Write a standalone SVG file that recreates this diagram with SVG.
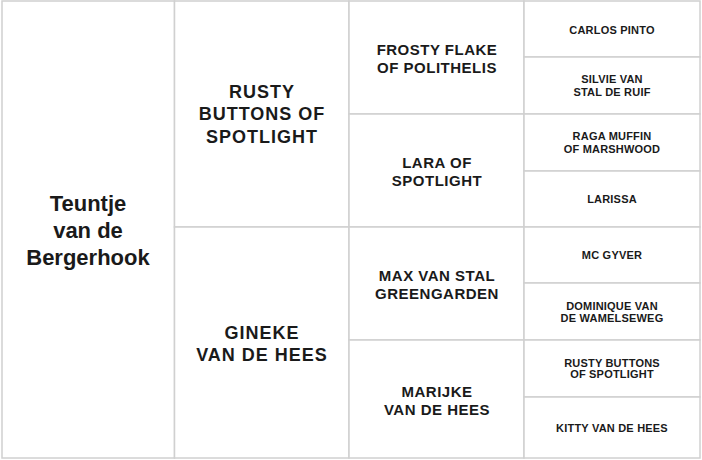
<svg xmlns="http://www.w3.org/2000/svg" width="702" height="460" viewBox="0 0 702 460">
<style>
.cell{fill:#fff;stroke:#d0d0d0;stroke-width:1.5}
text{font-family:"Liberation Sans",Arial,sans-serif;font-weight:bold;fill:#1a1a1a;text-anchor:middle}
.t1{font-size:22px}
.t2{font-size:18px;letter-spacing:1px}
.t3{font-size:15px;letter-spacing:0.5px}
.t4{font-size:11px;letter-spacing:0.2px}
</style>
<rect x="0" y="0" width="702" height="460" fill="#fff"/>
<g id="subject">
<rect class="cell" x="2" y="1" width="172.5" height="457"/>
<text class="t1" x="88" y="211">Teuntje</text>
<text class="t1" x="88" y="238">van de</text>
<text class="t1" x="88" y="265">Bergerhook</text>
</g>
<g id="sire">
<rect class="cell" x="174.5" y="1" width="174.5" height="226"/>
<text class="t2" x="262" y="97.5">RUSTY</text>
<text class="t2" x="262" y="120">BUTTONS OF</text>
<text class="t2" x="262" y="142.5">SPOTLIGHT</text>
</g>
<g id="dam">
<rect class="cell" x="174.5" y="227" width="174.5" height="231"/>
<text class="t2" x="262" y="338.5">GINEKE</text>
<text class="t2" x="262" y="361">VAN DE HEES</text>
</g>
<g id="ss">
<rect class="cell" x="349" y="1" width="175" height="113"/>
<text class="t3" x="437" y="54.5">FROSTY FLAKE</text>
<text class="t3" x="437" y="72.7">OF POLITHELIS</text>
</g>
<g id="sd">
<rect class="cell" x="349" y="114" width="175" height="113"/>
<text class="t3" x="437" y="167.7">LARA OF</text>
<text class="t3" x="437" y="185.7">SPOTLIGHT</text>
</g>
<g id="ds">
<rect class="cell" x="349" y="227" width="175" height="113"/>
<text class="t3" x="437" y="280.7">MAX VAN STAL</text>
<text class="t3" x="437" y="299">GREENGARDEN</text>
</g>
<g id="dd">
<rect class="cell" x="349" y="340" width="175" height="118"/>
<text class="t3" x="437" y="396.7">MARIJKE</text>
<text class="t3" x="437" y="415">VAN DE HEES</text>
</g>
<g id="sss">
<rect class="cell" x="524" y="1" width="176" height="56"/>
<text class="t4" x="612" y="33.7">CARLOS PINTO</text>
</g>
<g id="ssd">
<rect class="cell" x="524" y="57" width="176" height="57"/>
<text class="t4" x="612" y="83.3">SILVIE VAN</text>
<text class="t4" x="612" y="96">STAL DE RUIF</text>
</g>
<g id="sds">
<rect class="cell" x="524" y="114" width="176" height="57"/>
<text class="t4" x="612" y="140">RAGA MUFFIN</text>
<text class="t4" x="612" y="152.7">OF MARSHWOOD</text>
</g>
<g id="sdd">
<rect class="cell" x="524" y="171" width="176" height="56"/>
<text class="t4" x="612" y="203.3">LARISSA</text>
</g>
<g id="dss">
<rect class="cell" x="524" y="227" width="176" height="56"/>
<text class="t4" x="612" y="259.3">MC GYVER</text>
</g>
<g id="dsd">
<rect class="cell" x="524" y="283" width="176" height="57"/>
<text class="t4" x="612" y="310">DOMINIQUE VAN</text>
<text class="t4" x="612" y="322.3">DE WAMELSEWEG</text>
</g>
<g id="dds">
<rect class="cell" x="524" y="340" width="176" height="57"/>
<text class="t4" x="612" y="366.7">RUSTY BUTTONS</text>
<text class="t4" x="612" y="378.3">OF SPOTLIGHT</text>
</g>
<g id="ddd">
<rect class="cell" x="524" y="397" width="176" height="61"/>
<text class="t4" x="612" y="431.7">KITTY VAN DE HEES</text>
</g>
<g id="connectors"></g>
</svg>
